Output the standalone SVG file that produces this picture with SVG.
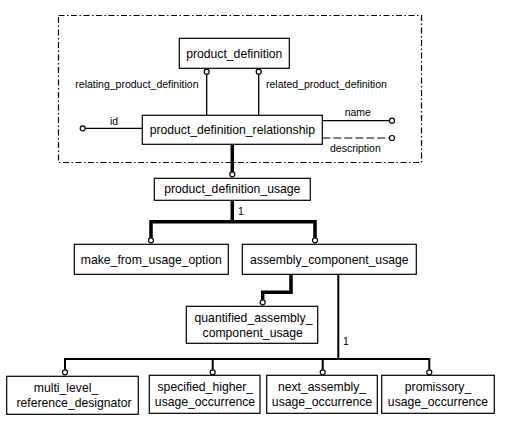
<svg xmlns="http://www.w3.org/2000/svg" width="506" height="427" viewBox="0 0 506 427">
<defs>
<style>
.box{fill:#fff;stroke:#000;stroke-width:1.2}
.t{font-family:"Liberation Sans",Arial,sans-serif;font-size:12.2px;fill:#000;text-anchor:middle}
.a{font-family:"Liberation Sans",Arial,sans-serif;font-size:10.5px;fill:#000}
.thick{fill:none;stroke:#000;stroke-width:3.5}
.med{fill:none;stroke:#000;stroke-width:2}
.thin{fill:none;stroke:#000;stroke-width:1.3}
.dash{fill:none;stroke:#000;stroke-width:1.2;stroke-dasharray:8 3}
.c{fill:#fff;stroke:#000;stroke-width:1.2}
.frame{fill:none;stroke:#000;stroke-width:1.2;stroke-dasharray:6 2.5 1.5 2.5}
</style>
</defs>
<rect width="506" height="427" fill="#fff"/>
<rect class="frame" x="58.5" y="15.5" width="363" height="147"/>
<g id="connectors">
<path class="thin" d="M206.7 74.2V115.3M258.7 74.2V115.3"/>
<circle class="c" cx="206.7" cy="71.7" r="2.5"/>
<circle class="c" cx="258.7" cy="71.7" r="2.5"/>
<text class="a" x="75.3" y="88">relating_product_definition</text>
<text class="a" x="266" y="88">related_product_definition</text>
<path class="thin" d="M85.2 128.3H142.3"/>
<circle class="c" cx="82.7" cy="128.3" r="2.5"/>
<text class="a" x="110" y="125">id</text>
<path class="thin" d="M322.3 120.7H389.5"/>
<circle class="c" cx="392" cy="120.7" r="2.5"/>
<text class="a" x="344.7" y="116">name</text>
<path class="dash" d="M322.3 138H389.5"/>
<circle class="c" cx="392" cy="138" r="2.5"/>
<text class="a" x="330" y="151.5">description</text>
<path class="thick" d="M232.3 144.3V171.8"/>
<circle class="c" cx="232.3" cy="174.3" r="2.5"/>
<path class="thick" d="M232.3 200.3V221.7M151 237.8V221.7H315V237.8"/>
<circle class="c" cx="151" cy="240.3" r="2.5"/>
<circle class="c" cx="315" cy="240.3" r="2.5"/>
<text class="a" x="238" y="215">1</text>
<path class="thick" d="M291 274.3V292.3H262.7V299.8"/>
<circle class="c" cx="262.7" cy="302.3" r="2.5"/>
<path class="med" d="M338.3 274.3V359M65 369.8V359H429.3V369.8M212.7 359V369.8M322.7 359V369.8"/>
<circle class="c" cx="65" cy="372.3" r="2.5"/>
<circle class="c" cx="212.7" cy="372.3" r="2.5"/>
<circle class="c" cx="322.7" cy="372.3" r="2.5"/>
<circle class="c" cx="429.3" cy="372.3" r="2.5"/>
<text class="a" x="343" y="345">1</text>
</g>
<g id="product_definition">
<rect class="box" x="179.3" y="38.3" width="110" height="30"/>
<text class="t" x="234.3" y="57.6">product_definition</text>
</g>
<g id="product_definition_relationship">
<rect class="box" x="142.3" y="115.3" width="180" height="29"/>
<text class="t" x="232.3" y="134">product_definition_relationship</text>
</g>
<g id="product_definition_usage">
<rect class="box" x="154.3" y="178.3" width="156" height="22"/>
<text class="t" x="232.3" y="193.3">product_definition_usage</text>
</g>
<g id="make_from_usage_option">
<rect class="box" x="74.3" y="244.3" width="154" height="30"/>
<text class="t" x="151.3" y="263.6">make_from_usage_option</text>
</g>
<g id="assembly_component_usage">
<rect class="box" x="242.3" y="244.3" width="174" height="30"/>
<text class="t" x="329.3" y="263.6">assembly_component_usage</text>
</g>
<g id="quantified_assembly_component_usage">
<rect class="box" x="186.3" y="306.3" width="131.4" height="37"/>
<text class="t" x="253.5" y="321.5">quantified_assembly_</text>
<text class="t" x="252.7" y="336.5">component_usage</text>
</g>
<g id="multi_level_reference_designator">
<rect class="box" x="6.7" y="376.3" width="131.6" height="38"/>
<text class="t" x="66" y="392">multi_level_</text>
<text class="t" x="74" y="407">reference_designator</text>
</g>
<g id="specified_higher_usage_occurrence">
<rect class="box" x="149.3" y="375.3" width="110.7" height="38"/>
<text class="t" x="205.3" y="391">specified_higher_</text>
<text class="t" x="205" y="406">usage_occurrence</text>
</g>
<g id="next_assembly_usage_occurrence">
<rect class="box" x="266.7" y="375.3" width="110.6" height="38"/>
<text class="t" x="322" y="391">next_assembly_</text>
<text class="t" x="322" y="406">usage_occurrence</text>
</g>
<g id="promissory_usage_occurrence">
<rect class="box" x="381.7" y="375.3" width="112.6" height="38"/>
<text class="t" x="438" y="391">promissory_</text>
<text class="t" x="438" y="406">usage_occurrence</text>
</g>
</svg>
